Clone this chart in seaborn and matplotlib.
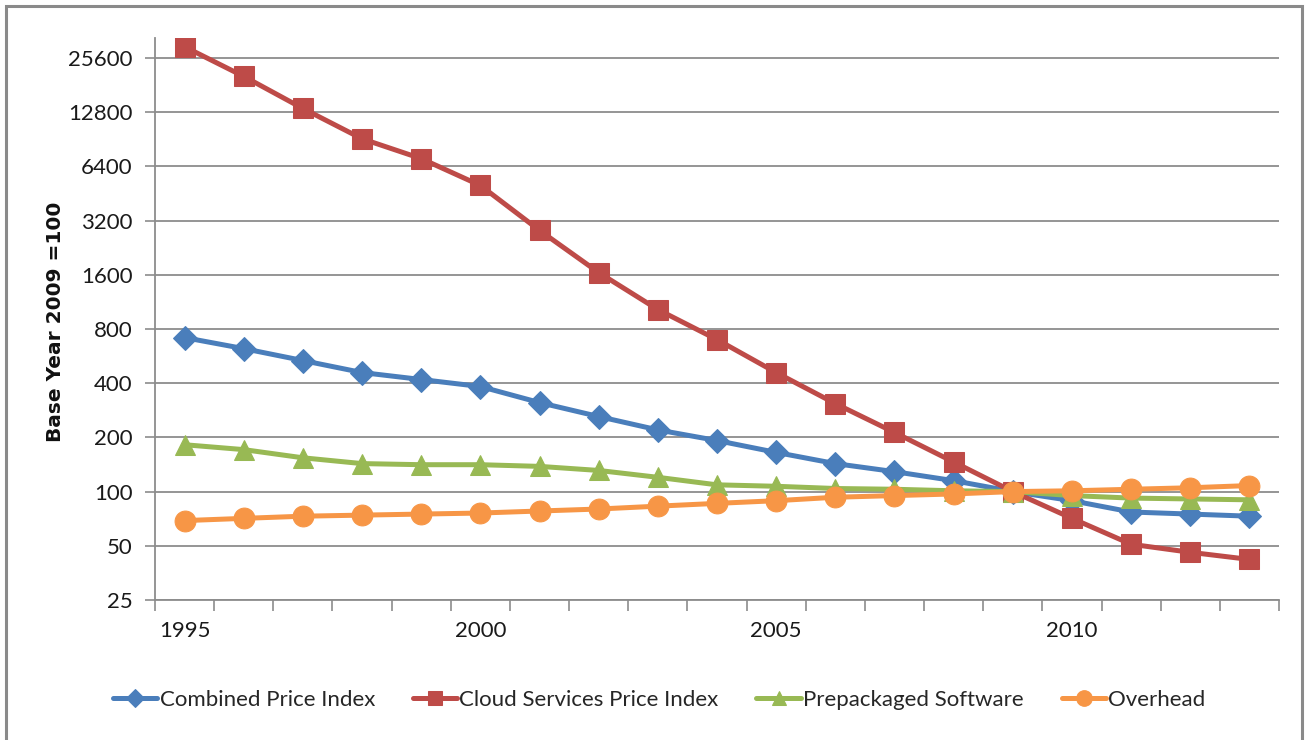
import numpy as np
import pandas as pd
import matplotlib
matplotlib.use("Agg")
import matplotlib.pyplot as plt
import matplotlib.ticker as mticker
from matplotlib.patches import Rectangle
import seaborn as sns

years = list(range(1995, 2014))
combined = [716, 622, 534, 458, 419, 383, 312, 261, 220, 192, 165, 143, 129, 115, 100, 89, 77, 75, 73]
cloud = [29500, 20200, 13400, 9100, 7060, 5010, 2820, 1645, 1025, 698, 458, 308, 213, 146, 100, 71, 51, 46, 42]
prepackaged = [182, 171, 154, 143, 141, 141, 138, 131, 120, 109, 107, 104, 103, 101, 100, 95, 92, 91, 90]
overhead = [69, 71, 73, 74, 75, 76, 78, 80, 83, 86, 89, 93, 95, 97, 100, 101, 103, 105, 108]

series_names = ["Combined Price Index", "Cloud Services Price Index", "Prepackaged Software", "Overhead"]
series_values = [combined, cloud, prepackaged, overhead]
colors = ["#4A7EBB", "#BE4B48", "#98B954", "#F79646"]
markers = ["D", "s", "^", "o"]
msizes = [12, 14, 14, 15]

y_ticks = [25, 50, 100, 200, 400, 800, 1600, 3200, 6400, 12800, 25600]
x_labels = [1995, 2000, 2005, 2010]

sns.set_theme(style="white")
plt.rcParams['font.family'] = ['Lato', 'DejaVu Sans']

fig = plt.figure(figsize=(13.08, 7.40), dpi=100)
ax = fig.add_axes([155/1308, 1 - 600/740, (1279 - 155)/1308, (600 - 38)/740])

for name, vals, c, m, ms in zip(series_names, series_values, colors, markers, msizes):
    df = pd.DataFrame({"Year": years, "Value": vals})
    sns.lineplot(data=df, x="Year", y="Value", ax=ax, color=c, marker=m,
                 markersize=ms, markeredgecolor=c, markerfacecolor=c,
                 linewidth=3.6, label=name, legend=False)

ax.set_yscale("log", base=2)
ax.set_ylim(25, 33000)
ax.set_yticks(y_ticks)
ax.yaxis.set_major_formatter(mticker.FuncFormatter(lambda v, p: f"{int(round(v))}"))
ax.yaxis.set_minor_locator(mticker.NullLocator())
ax.set_xlim(1994.5, 2013.5)
ax.set_xticks(x_labels)
ax.set_xticklabels([str(x) for x in x_labels])
ax.set_xticks(np.arange(1994.5, 2014.0, 1.0), minor=True)

ax.grid(axis="y", color="#8c8c8c", linewidth=1.3)
ax.grid(axis="x", visible=False)
ax.set_axisbelow(True)

for s in ["top", "right"]:
    ax.spines[s].set_visible(False)
for s in ["left", "bottom"]:
    ax.spines[s].set_color("#8c8c8c")
    ax.spines[s].set_linewidth(1.3)

ax.tick_params(axis="y", which="major", length=7, width=1.2, color="#8c8c8c",
               labelsize=16, pad=9, labelcolor="#1a1a1a", left=True)
ax.tick_params(axis="x", which="major", length=0, labelsize=16, pad=15, labelcolor="#1a1a1a", bottom=True)
ax.tick_params(axis="x", which="minor", length=8, width=1.2, color="#8c8c8c", bottom=True)

ax.set_xlabel("")
ax.set_ylabel("Base Year 2009 =100", fontsize=14.5, fontweight="bold",
              family="DejaVu Sans", color="#111111")
ax.yaxis.set_label_coords(-0.080, 0.495)

handles, labels = ax.get_legend_handles_labels()
fig.legend(handles, labels, loc="center", bbox_to_anchor=(0.504, 0.054), ncol=4,
           frameon=False, fontsize=16, handlelength=2.0, handletextpad=0.1,
           columnspacing=1.7, markerscale=0.75)

fig.patches.append(Rectangle((6/1308, -0.02), (1302 - 6)/1308, 1.02 - 6/740,
                             transform=fig.transFigure, fill=False,
                             edgecolor="#8a8a8a", linewidth=2.2))

fig.savefig("out.png", dpi=100, facecolor="white")
